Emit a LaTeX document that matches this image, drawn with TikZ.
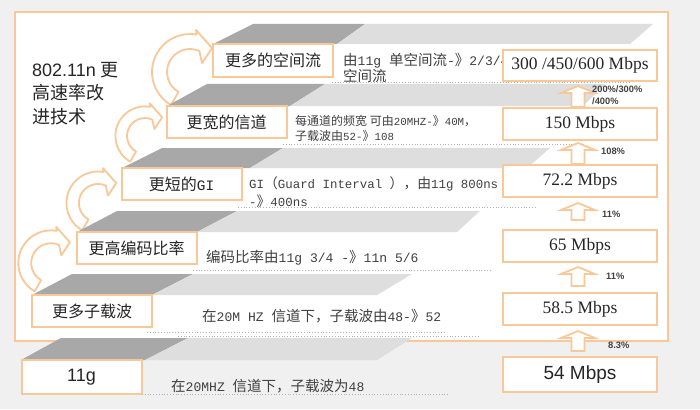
\documentclass[tikz,border=0pt]{standalone}
\usepackage{fontspec}
\setmainfont{Liberation Sans}
\setmonofont[Scale=0.9]{Liberation Mono}
\newfontfamily\cjk{Noto Sans CJK SC}
\newfontfamily\ratefont{Liberation Serif}
\usetikzlibrary{calc}

\definecolor{boxorange}{RGB}{248,200,152}
\definecolor{bggrey}{RGB}{240,240,240}
\definecolor{slabdark}{RGB}{168,168,168}
\definecolor{slablight}{RGB}{222,222,222}
\definecolor{desctext}{RGB}{64,64,64}

\newcommand{\mo}[1]{{\ttfamily #1}}

% one step: top y, bottom y, left x, box end x, dark top end x, light top end x, light bottom end x
\newcommand{\slab}[7]{%
  \fill[slabdark] (#3,#2) -- (#3+40,#1) -- (#5,#1) -- (#4,#2) -- cycle;
  \fill[slablight] (#4,#2) -- (#5,#1) -- (#6,#1) -- (#7,#2) -- cycle;}

% curled hollow arrow: centre x, centre y, scale
\newcommand{\curl}[3]{%
  \begin{scope}[shift={(#1,#2)}, yscale=-1, scale=#3]
    \draw[curlarrow] (240:38) arc[start angle=240, end angle=80, radius=38]
      -- (6,42) -- (22,24) -- (12,9) -- (66:23)
      arc[start angle=66, end angle=240, radius=23] -- cycle;
  \end{scope}}

% hollow up arrow: lower box, upper box, gap below, gap above
\newcommand{\rateup}[4]{%
  \draw[rate] let \p1=($(#1.north)+(-2,-#3)$), \p2=($(#2.south)+(-2,#4)$) in
    (\x1-6.5pt,\y1) -- (\x1-6.5pt,\y2-7pt) -- (\x1-17pt,\y2-7pt) -- (\x1,\y2)
    -- (\x1+17pt,\y2-7pt) -- (\x1+6.5pt,\y2-7pt) -- (\x1+6.5pt,\y1) -- cycle;}

\tikzset{
  stepbox/.style={draw=boxorange, fill=white, line width=2pt, inner sep=0pt,
    minimum width=120pt, minimum height=32pt, text=black!85,
    font=\cjk\fontsize{16}{18}\selectfont},
  ratebox/.style={draw=boxorange, fill=white, line width=2pt, inner sep=0pt,
    minimum width=154pt, minimum height=31pt, text=black!85,
    font=\ratefont\fontsize{17.5}{19}\selectfont},
  desc/.style={anchor=west, inner sep=0pt, align=left, text=desctext,
    font=\cjk\fontsize{14.5}{16}\selectfont},
  pct/.style={anchor=west, inner sep=0pt, align=left, text=black!75,
    font=\bfseries\fontsize{9.3}{12}\selectfont},
  curlarrow/.style={draw=boxorange, fill=white, line width=1.8pt, line join=round},
  rate/.style={draw=boxorange, fill=white, line width=1.8pt},
  guide/.style={draw=black!30, dotted, line width=0.8pt},
}

\begin{document}
\begin{tikzpicture}[x=1pt, y=-1pt]

\fill[bggrey] (0,0) rectangle (700,409);
\useasboundingbox (0,0) rectangle (700,409);
\draw[draw=boxorange, fill=white, line width=2pt] (15,12) rectangle (668,341);

% curls between the steps
\curl{190}{72}{1}
\curl{145}{136}{0.78}
\curl{98}{203}{0.83}
\curl{51}{263}{0.86}

% steps
\slab{338}{360}{21}{145}{188}{412}{377}
\slab{274}{295}{32}{152}{193}{412}{377}
\slab{211}{232}{77}{197}{237}{480}{457}
\slab{148}{168}{122}{250}{283}{550}{527}
\slab{84}{106}{167}{290}{325}{605}{583}
\slab{24}{44}{213}{337}{365}{653}{630}

\node[stepbox, minimum height=34pt, font=\fontsize{18}{20}\selectfont] (s1) at (81.5,377) {11g};
\node[stepbox] (s2) at (92,311) {更多子载波};
\node[stepbox] (s3) at (136.5,248) {更高编码比率};
\node[stepbox] (s4) at (181.5,184) {更短的\mo{GI}};
\node[stepbox] (s5) at (226.5,122) {更宽的信道};
\node[stepbox, minimum height=33pt] (s6) at (273,60.5) {更多的空间流};

\node[desc] (d1) at (171,386) {在\mo{20MHZ }信道下，子载波为\mo{48}};
\node[desc] (d2) at (202,316) {在\mo{20M HZ }信道下，子载波由\mo{48-}》\mo{52}};
\node[desc] (d3) at (206,258) {编码比率由\mo{11g 3/4 -}》\mo{11n 5/6}};
\node[desc, font=\cjk\fontsize{13.8}{18}\selectfont] (d4) at (249,192)
  {\mo{GI}（\mo{Guard Interval }），由\mo{11g 800ns}\\\mo{-}》\mo{400ns}};
\node[desc, font=\cjk\fontsize{12}{15}\selectfont] (d5) at (295,128.5)
  {每通道的频宽 可由\mo{20MHZ-}》\mo{40M}，\\子载波由\mo{52-}》\mo{108}};
\node[desc] (d6) at (343,68) {由\mo{11g }单空间流\mo{-}》\mo{2/3/4}\\空间流};

\draw[guide] (142,394) -- (450,394);
\draw[guide] (147,332) -- (445,332);
\draw[guide] (178,336) -- (478,336);
\draw[guide] (193,270) -- (490,270);
\draw[guide] (238,207) -- (537,207);
\draw[guide] (283,144) -- (585,144);
\draw[guide] (332,82) -- (630,82);

% rates
\node[ratebox] (r300) at (580,65.5) {300 /450/600 Mbps};
\node[ratebox, minimum height=32pt] (r150) at (580,124) {150 Mbps};
\node[ratebox, minimum height=32pt] (r72) at (580,181) {72.2 Mbps};
\node[ratebox, minimum height=32pt] (r65) at (580,246) {65 Mbps};
\node[ratebox, minimum height=32pt] (r58) at (580,309) {58.5 Mbps};
\node[ratebox, minimum height=35pt, font=\fontsize{19}{21}\selectfont] (r54) at (580,374.5) {54 Mbps};

\rateup{r150}{r300}{0}{4}
\rateup{r72}{r150}{0}{2}
\rateup{r65}{r72}{9}{5}
\rateup{r58}{r65}{6}{4}
\rateup{r54}{r58}{5}{5}

\node[pct] (p1) at (592,95) {200\%/300\%\\/400\%};
\node[pct] (p2) at (601,151) {108\%};
\node[pct] (p3) at (602,214) {11\%};
\node[pct] (p4) at (606,276) {11\%};
\node[pct] (p5) at (608,345) {8.3\%};

\node[anchor=west, inner sep=0pt, align=left, text=black!85,
  font=\fontsize{18}{23.5}\selectfont] (title) at (32,93.5)
  {802.11n {\cjk 更}\\{\cjk 高速率改}\\{\cjk 进技术}};

\end{tikzpicture}
\end{document}
